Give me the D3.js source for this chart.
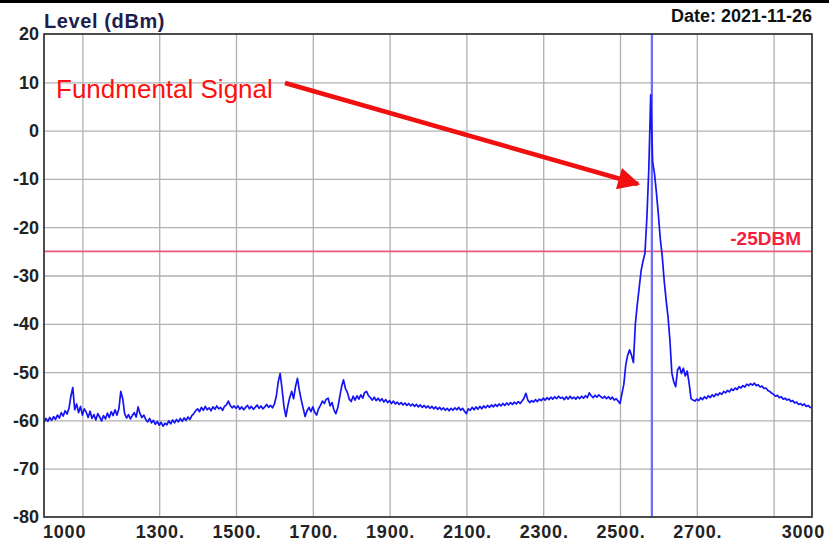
<!DOCTYPE html>
<html lang="en">
<head>
    <meta charset="UTF-8">
    <title>Level (dBm)</title>
    <script src="https://cdn.jsdelivr.net/npm/d3@7/dist/d3.min.js"></script>
    <style>
        body { margin: 0; background: #fff; }
        svg { display: block; font-family: "Liberation Sans", Arial, sans-serif; }
    </style>
</head>
<body>
<div class="spectrum-container"></div>
<script>
    // trace sampled every 5 MHz from 1000 MHz
    const startMHz = 1000
    const stepMHz = 5
    const levels = [
        -60.5, -59.6, -60.2, -59.4, -60.0, -59.2, -59.8, -58.9, -59.5, -58.4, -59.1, -58.0, -58.7, -57.5, -55.0, -53.2, -57.8, -56.6, -58.4, -57.1,
        -58.9, -57.6, -58.3, -59.4, -58.1, -59.6, -58.8, -59.9, -58.6, -59.3, -60.1, -59.0, -59.7, -58.5, -59.4, -58.2, -59.0, -57.8, -58.9, -57.6,
        -54.0, -55.5, -58.6, -59.5, -58.8, -59.7, -59.0, -58.4, -59.3, -57.2, -58.6, -59.4, -58.9, -59.8, -60.3, -59.6, -60.5, -60.0, -60.8, -60.2,
        -61.0, -60.4, -61.2, -60.6, -60.9, -60.1, -60.7, -59.9, -60.5, -59.8, -60.3, -59.6, -60.2, -59.5, -60.0, -59.3, -59.8, -59.0, -58.6, -58.0,
        -57.6, -58.2, -57.3, -57.9, -57.1, -57.8, -57.4, -58.0, -57.2, -57.7, -57.0, -57.6, -57.3, -57.9, -57.1, -56.8, -56.0, -56.9, -57.4, -57.0,
        -57.5, -57.0, -57.7, -57.2, -57.8, -57.3, -56.9, -57.6, -57.1, -57.7, -57.3, -56.8, -57.5, -57.0, -57.6, -57.2, -56.7, -57.3, -56.9, -57.4,
        -56.6, -55.0, -52.0, -50.3, -53.5, -57.2, -59.2, -57.0, -55.2, -54.0, -55.5, -53.0, -51.3, -53.8, -55.8, -57.5, -59.2, -58.0, -57.3, -58.2,
        -57.2, -58.3, -58.9, -57.6, -56.9, -56.0, -56.5, -55.6, -55.4, -57.0, -56.3, -57.8, -58.6, -57.4, -55.2, -53.0, -51.6, -53.4, -54.2, -55.6,
        -56.1, -55.0, -55.8, -54.9, -55.6, -54.7, -55.4, -54.2, -54.0, -54.9, -55.3, -55.8, -55.2, -55.9, -55.4, -56.0, -55.5, -56.2, -55.7, -56.3,
        -55.9, -56.5, -56.0, -56.6, -56.2, -56.7, -56.3, -56.8, -56.4, -56.9, -56.5, -57.0, -56.6, -57.1, -56.7, -57.2, -56.8, -57.3, -56.9, -57.4,
        -57.0, -57.5, -57.1, -57.6, -57.2, -57.7, -57.3, -57.8, -57.4, -57.9, -57.5, -58.0, -57.5, -57.9, -57.4, -57.8, -57.3, -57.9, -57.5, -58.1,
        -58.6, -57.6, -57.9, -57.3, -57.8, -57.2, -57.7, -57.1, -57.6, -57.0, -57.4, -56.9, -57.3, -56.8, -57.2, -56.7, -57.1, -56.6, -57.0, -56.5,
        -56.9, -56.4, -56.8, -56.3, -56.7, -56.2, -56.6, -56.1, -56.5, -56.0, -55.4, -54.4, -55.8, -56.3, -55.9, -56.2, -55.7, -56.1, -55.6, -55.9,
        -55.4, -55.8, -55.3, -55.7, -55.2, -55.6, -55.1, -55.5, -55.0, -55.4, -55.2, -55.7, -55.1, -55.6, -55.0, -55.5, -55.2, -55.6, -55.1, -55.5,
        -55.0, -55.4, -54.9, -55.3, -54.3, -54.9, -55.3, -54.8, -55.2, -54.7, -55.1, -55.4, -55.0, -55.5, -55.1, -55.6, -55.2, -55.8, -55.5, -56.0,
        -56.5, -54.5, -52.5, -48.5, -46.5, -45.4, -46.5, -48.0, -40.0, -36.0, -32.5, -29.0, -27.0, -25.4, -18.0, -8.0, 7.4, -6.5, -9.0, -13.0,
        -17.5, -22.5, -26.0, -31.0, -35.0, -38.5, -43.4, -50.2, -52.0, -53.0, -49.5, -48.9, -50.3, -49.2, -50.8, -49.8, -52.3, -55.5, -55.8, -56.0,
        -55.6, -55.9, -55.3, -55.7, -55.1, -55.5, -54.9, -55.3, -54.7, -55.1, -54.5, -54.8, -54.3, -54.6, -54.0, -54.3, -53.8, -54.1, -53.5, -53.8,
        -53.3, -53.6, -53.0, -53.3, -52.8, -53.1, -52.5, -52.8, -52.4, -52.7, -52.3, -52.8, -52.6, -53.1, -52.9, -53.4, -53.3, -53.8, -54.0, -54.4,
        -54.6, -55.0, -54.8, -55.3, -55.1, -55.6, -55.4, -55.8, -55.6, -56.1, -55.9, -56.4, -56.2, -56.7, -56.5, -56.9, -56.6, -57.1, -56.9, -57.3,
        -57.3
    ]

    const xGrid = [1100, 1300, 1500, 1700, 1900, 2100, 2300, 2500, 2700, 2900]
    const xLabels = [1000, 1300, 1500, 1700, 1900, 2100, 2300, 2500, 2700, 3000]
    const yTicks = [20, 10, 0, -10, -20, -30, -40, -50, -60, -70, -80]
    const markerMHz = 2583
    const limitDbm = -25
    const limitLabel = '-25DBM'
    const yTitle = 'Level (dBm)'
    const dateLabel = 'Date: 2021-11-26'
    const noteText = 'Fundmental Signal'

    const width = 829
    const height = 545
    const plot = { left: 44, right: 812, top: 34, bottom: 517 }

    const data = levels.map((v, i) => ({ f: startMHz + i * stepMHz, v }))

    const xScale = d3.scaleLinear().domain([1000, 3000]).range([plot.left, plot.right])
    const yScale = d3.scaleLinear().domain([-80, 20]).range([plot.bottom, plot.top])

    const svg = d3.select('.spectrum-container')
        .append('svg')
        .attr('width', width)
        .attr('height', height)

    svg.append('rect')
        .attr('x', 0).attr('y', 0)
        .attr('width', width).attr('height', 3)
        .attr('fill', '#000')

    // grid
    svg.append('g')
        .attr('transform', `translate(0, ${plot.bottom})`)
        .call(d3.axisBottom(xScale).tickValues(xGrid).tickSize(-(plot.bottom - plot.top)).tickFormat(''))
        .call(g => g.select('.domain').remove())
        .call(g => g.selectAll('line').attr('stroke', '#b0b0b0').attr('stroke-width', 1.3))

    svg.append('g')
        .attr('transform', `translate(${plot.left}, 0)`)
        .call(d3.axisLeft(yScale).tickValues(yTicks.slice(1, -1)).tickSize(-(plot.right - plot.left)).tickFormat(''))
        .call(g => g.select('.domain').remove())
        .call(g => g.selectAll('line').attr('stroke', '#b0b0b0').attr('stroke-width', 1.3))

    // limit line
    svg.append('line')
        .attr('x1', plot.left).attr('x2', plot.right)
        .attr('y1', yScale(limitDbm)).attr('y2', yScale(limitDbm))
        .attr('stroke', '#f0557a')
        .attr('stroke-width', 1.6)

    svg.append('text')
        .attr('x', 801)
        .attr('y', yScale(limitDbm) - 6)
        .attr('text-anchor', 'end')
        .attr('font-size', '19px')
        .attr('font-weight', 'bold')
        .attr('fill', '#f5203f')
        .text(limitLabel)

    // marker
    svg.append('line')
        .attr('x1', xScale(markerMHz)).attr('x2', xScale(markerMHz))
        .attr('y1', plot.top).attr('y2', plot.bottom)
        .attr('stroke', '#6a6aff')
        .attr('stroke-width', 2.2)

    // trace
    const line = d3.line()
        .x(d => xScale(d.f))
        .y(d => yScale(d.v))

    svg.append('path')
        .datum(data)
        .attr('fill', 'none')
        .attr('stroke', '#1414f5')
        .attr('stroke-width', 1.7)
        .attr('stroke-linejoin', 'round')
        .attr('d', line)

    // frame
    svg.append('rect')
        .attr('x', plot.left).attr('y', plot.top)
        .attr('width', plot.right - plot.left)
        .attr('height', plot.bottom - plot.top)
        .attr('fill', 'none')
        .attr('stroke', '#3a3a3a')
        .attr('stroke-width', 1.8)

    // tick labels
    svg.append('g')
        .selectAll('text')
        .data(yTicks)
        .enter()
        .append('text')
        .attr('x', 39)
        .attr('y', d => yScale(d))
        .attr('dy', '0.36em')
        .attr('text-anchor', 'end')
        .attr('font-size', '18px')
        .attr('font-weight', 'bold')
        .attr('fill', '#222')
        .text(d => d)

    svg.append('g')
        .selectAll('text')
        .data(xLabels)
        .enter()
        .append('text')
        .attr('x', (d, i) => i === 0 ? 43 : i === xLabels.length - 1 ? 825 : xScale(d) + 1)
        .attr('y', 538)
        .attr('text-anchor', (d, i) => i === 0 ? 'start' : i === xLabels.length - 1 ? 'end' : 'middle')
        .attr('font-size', '18px')
        .attr('font-weight', 'bold')
        .attr('letter-spacing', '0.8px')
        .attr('fill', '#222')
        .text((d, i) => i === 0 || i === xLabels.length - 1 ? d : d + '.')

    svg.append('text')
        .attr('x', 44)
        .attr('y', 28)
        .attr('font-size', '20px')
        .attr('font-weight', 'bold')
        .attr('letter-spacing', '0.6px')
        .attr('fill', '#1e1e4e')
        .text(yTitle)

    svg.append('text')
        .attr('x', 812)
        .attr('y', 22)
        .attr('text-anchor', 'end')
        .attr('font-size', '18px')
        .attr('font-weight', 'bold')
        .attr('fill', '#111')
        .text(dateLabel)

    // annotation
    svg.append('defs')
        .append('marker')
        .attr('id', 'arrow')
        .attr('viewBox', '0 0 10 10')
        .attr('refX', 9).attr('refY', 5)
        .attr('markerUnits', 'userSpaceOnUse')
        .attr('markerWidth', 26).attr('markerHeight', 22)
        .attr('orient', 'auto')
        .append('path')
        .attr('d', 'M0,0 L10,5 L0,10 Z')
        .attr('fill', '#f01010')

    svg.append('line')
        .attr('x1', 285).attr('y1', 83)
        .attr('x2', 638).attr('y2', 184)
        .attr('stroke', '#f01010')
        .attr('stroke-width', 4.5)
        .attr('marker-end', 'url(#arrow)')

    svg.append('text')
        .attr('x', 56)
        .attr('y', 98)
        .attr('font-size', '26px')
        .attr('fill', '#ff1010')
        .text(noteText)
</script>
</body>
</html>
